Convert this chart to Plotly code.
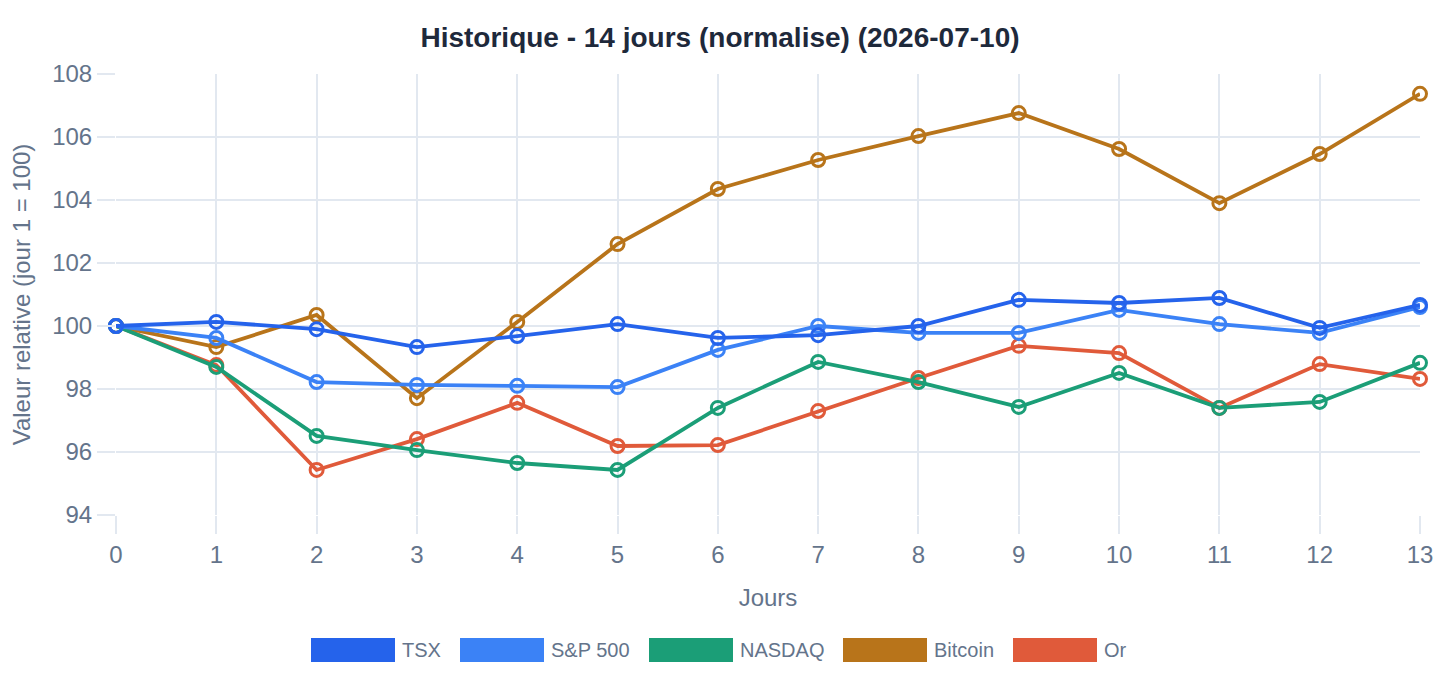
import plotly.graph_objects as go

jours = list(range(14))
series_names = ["TSX", "S&P 500", "NASDAQ", "Bitcoin", "Or"]
series_colors = ["#2563eb", "#3b82f6", "#1b9e77", "#b8741a", "#e05a3a"]

tsx = [100, 100.13, 99.9, 99.33, 99.68, 100.06, 99.62, 99.71, 100.0, 100.83, 100.73, 100.89, 99.94, 100.67]
sp500 = [100, 99.62, 98.22, 98.13, 98.1, 98.06, 99.24, 100.0, 99.78, 99.78, 100.51, 100.06, 99.78, 100.6]
nasdaq = [100, 98.7, 96.51, 96.06, 95.65, 95.43, 97.4, 98.86, 98.22, 97.43, 98.51, 97.4, 97.59, 98.83]
bitcoin = [100, 99.33, 100.35, 97.71, 100.13, 102.6, 104.35, 105.27, 106.03, 106.76, 105.62, 103.9, 105.46, 107.37]
gold = [100, 98.76, 95.43, 96.41, 97.56, 96.19, 96.22, 97.3, 98.35, 99.37, 99.14, 97.4, 98.79, 98.32]

series_values = [tsx, sp500, nasdaq, bitcoin, gold]

y_ticks = [94, 96, 98, 100, 102, 104, 106, 108]

W, H = 1440, 680
M_L, M_R, M_T, M_B = 116, 20, 74, 165
plot_w = W - M_L - M_R
plot_h = H - M_T - M_B

tick_color = "#64748b"
grid_color = "#e2e8f0"
font_family = "Liberation Sans, Arial, sans-serif"

fig = go.Figure()
# draw in reverse so TSX sits on top
for name, color, vals in reversed(list(zip(series_names, series_colors, series_values))):
    fig.add_trace(go.Scatter(
        x=jours, y=vals, name=name, mode="lines+markers",
        line=dict(color=color, width=3.8),
        marker=dict(symbol="circle-open", size=13, color=color, line=dict(width=3, color=color)),
        showlegend=False, cliponaxis=False,
    ))

# custom legend (rectangular swatches)
legend_box_left_px = [311, 460, 649, 843, 1013]
box_w, box_h, legend_cy = 84, 24, 650
shapes = []
annotations = []
for name, color, lx in zip(series_names, series_colors, legend_box_left_px):
    x0 = (lx - M_L) / plot_w
    x1 = (lx + box_w - M_L) / plot_w
    y0 = (M_T + plot_h - (legend_cy + box_h / 2)) / plot_h
    y1 = (M_T + plot_h - (legend_cy - box_h / 2)) / plot_h
    shapes.append(dict(type="rect", xref="paper", yref="paper", x0=x0, x1=x1, y0=y0, y1=y1,
                       fillcolor=color, line=dict(width=0)))
    annotations.append(dict(xref="paper", yref="paper", x=(lx + box_w + 5 - M_L) / plot_w,
                            y=(M_T + plot_h - legend_cy) / plot_h, xanchor="left", yanchor="middle",
                            text=name, showarrow=False, font=dict(size=20, color=tick_color, family=font_family)))

fig.update_layout(
    width=W, height=H,
    margin=dict(l=M_L, r=M_R, t=M_T, b=M_B),
    paper_bgcolor="white", plot_bgcolor="white",
    font=dict(family=font_family, color=tick_color),
    title=dict(text="<b>Historique - 14 jours (normalise) (2026-07-10)</b>",
               x=0.5, xanchor="center", y=1 - 37 / H, yanchor="middle",
               font=dict(size=28, color="#1e293b", family=font_family)),
    xaxis=dict(range=[0, 13], tickvals=jours, ticks="outside", ticklen=18, tickcolor=grid_color, tickwidth=2,
               showgrid=True, gridcolor=grid_color, gridwidth=2, zeroline=False, showline=False,
               automargin=False,
               tickfont=dict(size=24, color=tick_color),
               title=dict(text="Jours", font=dict(size=24, color=tick_color), standoff=22)),
    yaxis=dict(range=[94, 108], tickvals=y_ticks, ticks="outside", ticklen=18, tickcolor=grid_color, tickwidth=2,
               showgrid=True, gridcolor=grid_color, gridwidth=2, zeroline=False, showline=False,
               automargin=False,
               tickfont=dict(size=24, color=tick_color),
               title=dict(text="Valeur relative (jour 1 = 100)", font=dict(size=24, color=tick_color), standoff=14)),
    shapes=shapes, annotations=annotations,
)

fig.write_html("out.html")
